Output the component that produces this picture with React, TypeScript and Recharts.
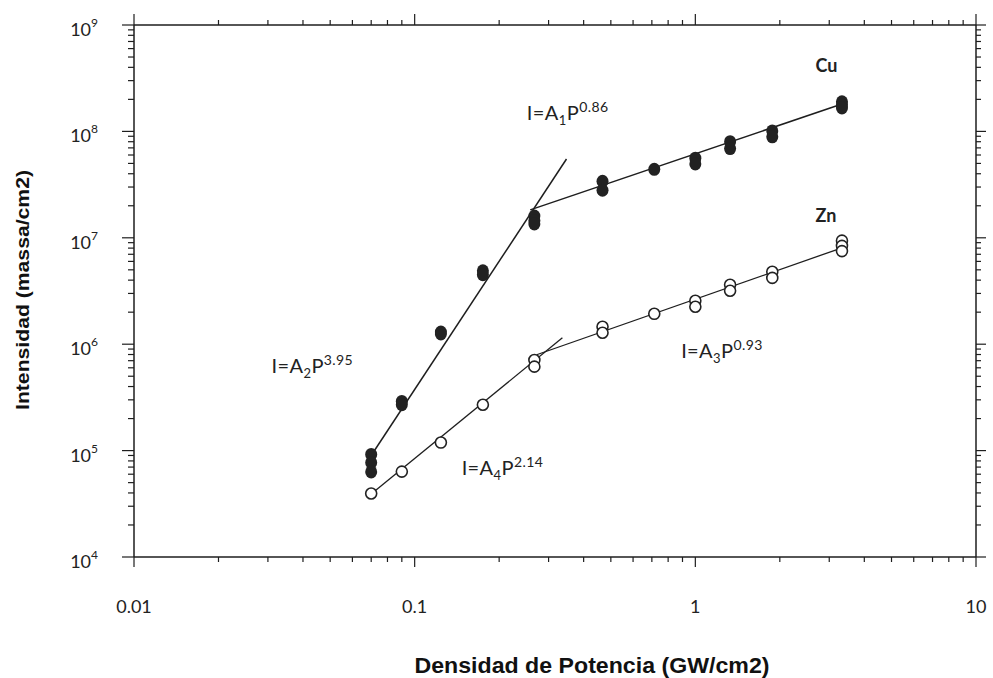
import React from 'react'
import { ScatterChart, Scatter, XAxis, YAxis, ReferenceDot } from 'recharts'

// power density levels (GW/cm2) where intensities were measured
const powerLevels = [0.07, 0.09, 0.124, 0.175, 0.267, 0.467, 0.714, 1.0, 1.33, 1.88, 3.33]

// Cu intensity (massa/cm2), several shots per power level
const cuIntensity = [
  [9.2e4, 7.7e4, 6.3e4],
  [2.9e5, 2.7e5],
  [1.3e6, 1.25e6],
  [4.9e6, 4.5e6],
  [1.6e7, 1.45e7, 1.35e7],
  [3.4e7, 2.8e7],
  [4.4e7],
  [5.6e7, 4.95e7],
  [8.0e7, 6.9e7],
  [1.01e8, 8.9e7],
  [1.9e8, 1.78e8, 1.66e8],
]

// Zn intensity (massa/cm2)
const znIntensity = [
  [3.95e4],
  [6.35e4],
  [1.19e5],
  [2.7e5],
  [7.1e5, 6.15e5],
  [1.46e6, 1.28e6],
  [1.93e6],
  [2.56e6, 2.25e6],
  [3.62e6, 3.18e6],
  [4.8e6, 4.2e6],
  [9.4e6, 8.4e6, 7.5e6],
]

// fitted power laws, end points
const cuFitLow = [{ x: 0.07, y: 9.0e4 }, { x: 0.3475, y: 5.5e7 }]
const cuFitHigh = [{ x: 0.258, y: 1.83e7 }, { x: 3.33, y: 1.81e8 }]
const znFitLow = [{ x: 0.07, y: 3.9e4 }, { x: 0.336, y: 1.15e6 }]
const znFitHigh = [{ x: 0.272, y: 7.96e5 }, { x: 3.33, y: 8.05e6 }]

const xMajor = [0.01, 0.1, 1, 10]
const xLabels = ['0.01', '0.1', '1', '10']
const yMajor = [1e4, 1e5, 1e6, 1e7, 1e8, 1e9]
const yExponents = ['4', '5', '6', '7', '8', '9']

// annotations: [text, subscript, exponent, x, y]
const formulas: [string, string, string, number, number][] = [
  ['I=A', '1', '0.86', 0.251, 1.28e8],
  ['I=A', '2', '3.95', 0.0309, 5.4e5],
  ['I=A', '3', '0.93', 0.89, 7.47e5],
  ['I=A', '4', '2.14', 0.147, 5.96e4],
]
const elements: [string, number, number][] = [
  ['Cu', 2.68, 3.6e8],
  ['Zn', 2.68, 1.41e7],
]

const minorOf = (majors: number[]) =>
  majors.slice(0, -1).flatMap(d => [2, 3, 4, 5, 6, 7, 8, 9].map(m => +(m * d).toPrecision(3)))

const xTicks = [...xMajor, ...minorOf(xMajor)]
const yTicks = [...yMajor, ...minorOf(yMajor)]

const flatten = (vals: number[][]) =>
  vals.flatMap((ys, i) => ys.map(y => ({ x: powerLevels[i], y })))

const cuPoints = flatten(cuIntensity)
const znPoints = flatten(znIntensity)

const INK = '#1e1e1e'
const TICK_FONT = 'Lato, "Open Sans", sans-serif'
const TITLE_FONT = '"Liberation Sans", Arial, sans-serif'

const BottomTick = (p: any) => {
  const i = xMajor.indexOf(p.payload.value)
  const major = i >= 0
  return (
    <g>
      <line x1={p.x} x2={p.x} y1={p.y} y2={p.y + (major ? 10 : 5)} stroke={INK} strokeWidth={1.2} />
      {major && (
        <text x={p.x} y={p.y + 49} textAnchor="middle" dominantBaseline="central"
          fontFamily={TICK_FONT} fontSize={18} fill="#222">{xLabels[i]}</text>
      )}
    </g>
  )
}

const TopTick = (p: any) => {
  const major = xMajor.includes(p.payload.value)
  return <line x1={p.x} x2={p.x} y1={p.y} y2={p.y - (major ? 11 : 5)} stroke={INK} strokeWidth={1.2} />
}

const LeftTick = (p: any) => {
  const i = yMajor.indexOf(p.payload.value)
  const major = i >= 0
  return (
    <g>
      <line x1={p.x - (major ? 12 : 6)} x2={p.x} y1={p.y} y2={p.y} stroke={INK} strokeWidth={1.2} />
      {major && (
        <text x={p.x - 36} y={p.y + 4} textAnchor="end" dominantBaseline="central"
          fontFamily={TICK_FONT} fontSize={18} fill="#222">
          10<tspan dy={-7} fontSize={12}>{yExponents[i]}</tspan>
        </text>
      )}
    </g>
  )
}

const RightTick = (p: any) => {
  const major = yMajor.includes(p.payload.value)
  return <line x1={p.x} x2={p.x + (major ? 10 : 5)} y1={p.y} y2={p.y} stroke={INK} strokeWidth={1.2} />
}

const CuDot = (p: any) => <ellipse cx={p.cx} cy={p.cy} rx={6} ry={6.5} fill="#222" />
const ZnDot = (p: any) => <circle cx={p.cx} cy={p.cy} r={5.5} fill="#fff" stroke="#222" strokeWidth={1.6} />
const NoDot = () => <g />

const Formula = ({ cx, cy, base, sub, exp }: any) => (
  <text x={cx} y={cy} fontFamily={TICK_FONT} fontSize={20} letterSpacing={0.4} fill="#222">
    {base}
    <tspan dy={5} fontSize={13}>{sub}</tspan>
    <tspan dy={-5}>P</tspan>
    <tspan dy={-8} fontSize={14}>{exp}</tspan>
  </text>
)

const XTitle = ({ viewBox }: any) => (
  <text x={viewBox.x + viewBox.width / 2 + 37} y={viewBox.y + 108} textAnchor="middle" dominantBaseline="central"
    fontFamily={TITLE_FONT} fontWeight="bold" fontSize={22} fill="#111"
    textLength={355} lengthAdjust="spacingAndGlyphs">Densidad de Potencia (GW/cm2)</text>
)

const YTitle = ({ viewBox }: any) => {
  const x = viewBox.x + 22
  const y = viewBox.y + 265
  return (
    <text x={x} y={y} transform={`rotate(-90 ${x} ${y})`} textAnchor="middle" dominantBaseline="central"
      fontFamily={TITLE_FONT} fontWeight="bold" fontSize={19} fill="#111"
      textLength={240} lengthAdjust="spacingAndGlyphs">Intensidad (massa/cm2)</text>
  )
}

const App = () => {
  return (
    <div style={{ position: 'absolute', left: 0, top: 0, background: '#fff' }}>
      <ScatterChart width={993} height={678} margin={{ top: 0, right: 0, bottom: 0, left: 0 }}>
        <XAxis dataKey="x" type="number" scale="log" domain={[0.01, 10]} allowDataOverflow
          ticks={xTicks} interval={0} tick={<BottomTick />} tickLine={false} tickSize={0} tickMargin={0}
          height={121} axisLine={{ stroke: INK, strokeWidth: 1.5 }}
          label={{ content: (props: any) => <XTitle {...props} /> }} />
        <XAxis xAxisId="top" orientation="top" dataKey="x" type="number" scale="log" domain={[0.01, 10]} allowDataOverflow
          ticks={xTicks} interval={0} tick={<TopTick />} tickLine={false} tickSize={0} tickMargin={0}
          height={25} axisLine={{ stroke: INK, strokeWidth: 1.5 }} />
        <YAxis dataKey="y" type="number" scale="log" domain={[1e4, 1e9]} allowDataOverflow
          ticks={yTicks} interval={0} tick={<LeftTick />} tickLine={false} tickSize={0} tickMargin={0}
          width={134} axisLine={{ stroke: INK, strokeWidth: 1.5 }}
          label={{ content: (props: any) => <YTitle {...props} /> }} />
        <YAxis yAxisId="right" orientation="right" dataKey="y" type="number" scale="log" domain={[1e4, 1e9]} allowDataOverflow
          ticks={yTicks} interval={0} tick={<RightTick />} tickLine={false} tickSize={0} tickMargin={0}
          width={17} axisLine={{ stroke: INK, strokeWidth: 1.5 }} />

        <Scatter data={cuFitLow} line={{ stroke: INK, strokeWidth: 1.5 }} shape={<NoDot />} isAnimationActive={false} />
        <Scatter data={cuFitHigh} line={{ stroke: INK, strokeWidth: 1.5 }} shape={<NoDot />} isAnimationActive={false} />
        <Scatter data={znFitLow} line={{ stroke: INK, strokeWidth: 1.3 }} shape={<NoDot />} isAnimationActive={false} />
        <Scatter data={znFitHigh} line={{ stroke: INK, strokeWidth: 1.3 }} shape={<NoDot />} isAnimationActive={false} />
        <Scatter name="Cu" data={cuPoints} shape={<CuDot />} isAnimationActive={false} />
        <Scatter name="Zn" data={znPoints} shape={<ZnDot />} isAnimationActive={false} />

        {formulas.map(([base, sub, exp, x, y]) => (
          <ReferenceDot key={sub} x={x} y={y} r={0}
            shape={(p: any) => <Formula cx={p.cx} cy={p.cy} base={base} sub={sub} exp={exp} />} />
        ))}
        {elements.map(([name, x, y]) => (
          <ReferenceDot key={name} x={x} y={y} r={0}
            shape={(p: any) => (
              <text x={p.cx} y={p.cy} fontFamily={TICK_FONT} fontWeight="bold" fontSize={18} fill="#222">{name}</text>
            )} />
        ))}
      </ScatterChart>
    </div>
  )
}

export default App
